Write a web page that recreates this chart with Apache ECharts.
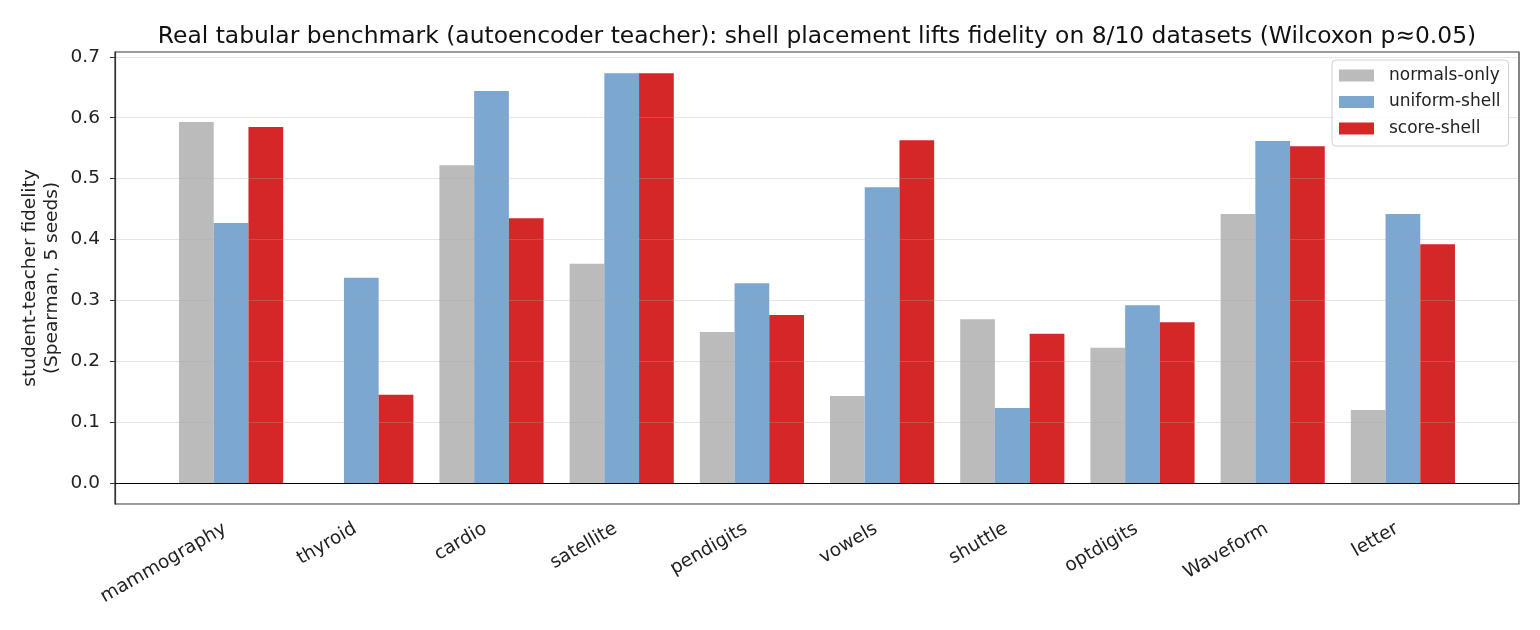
<!DOCTYPE html>
<html>
<head>
<meta charset="utf-8">
<title>Real tabular benchmark</title>
<script src="https://cdn.jsdelivr.net/npm/echarts@6/dist/echarts.min.js"></script>
<style>
  html, body { margin: 0; padding: 0; background: #fff; }
  #chart { width: 1540px; height: 630px; }
</style>
</head>
<body>
<div id="chart"></div>
<script>
// datasets on the x axis
const datasets = ['mammography', 'thyroid', 'cardio', 'satellite', 'pendigits',
  'vowels', 'shuttle', 'optdigits', 'Waveform', 'letter']

// student-teacher fidelity per placement strategy
const normalsOnly  = [0.593, 0.0,   0.522, 0.360, 0.248, 0.143, 0.269, 0.222, 0.442, 0.120]
const uniformShell = [0.427, 0.337, 0.644, 0.673, 0.328, 0.486, 0.123, 0.292, 0.562, 0.442]
const scoreShell   = [0.585, 0.145, 0.435, 0.673, 0.276, 0.563, 0.245, 0.264, 0.553, 0.392]

const seriesNames = ['normals-only', 'uniform-shell', 'score-shell']
const seriesColors = ['#bbbbbb', '#7ba7d1', '#d62728']

// y range as matplotlib autoscaled it
const yMin = -0.0345
const yMax = 0.708

const font = 'DejaVu Sans'
const chart = echarts.init(document.getElementById('chart'), null, { renderer: 'canvas' })

// grid 0 holds the bars (category band = one dataset),
// grid 1 is the full axes frame with the y scale, grid lines and zero line
const option = {
  animation: false,
  backgroundColor: '#fff',
  textStyle: { fontFamily: font },
  title: {
    text: 'Real tabular benchmark (autoencoder teacher): shell placement lifts fidelity on 8/10 datasets (Wilcoxon p≈0.05)',
    left: 812,
    top: 20,
    textAlign: 'center',
    textStyle: { fontFamily: font, fontSize: 23.4, fontWeight: 'normal', color: '#111' }
  },
  legend: {
    data: seriesNames,
    orient: 'vertical',
    left: 1332,
    top: 60,
    padding: [7, 8, 9, 7],
    itemWidth: 35,
    itemHeight: 12,
    itemGap: 9.5,
    icon: 'rect',
    borderColor: '#d0d0d0',
    borderWidth: 1,
    borderRadius: 4,
    backgroundColor: 'rgba(255,255,255,0.85)',
    textStyle: { fontFamily: font, fontSize: 17, color: '#222', padding: [0, 0, 0, 10] }
  },
  grid: [
    { left: 166, width: 1302, top: 52, height: 452 },
    { left: 115, width: 1404, top: 52, height: 452, show: true, borderColor: '#333', borderWidth: 1.2, backgroundColor: 'transparent' }
  ],
  xAxis: [
    {
      type: 'category',
      gridIndex: 0,
      data: datasets,
      axisLine: { show: false },
      axisTick: { alignWithLabel: true, length: 5, lineStyle: { color: '#333' } },
      axisLabel: { interval: 0, rotate: 30, margin: 20, padding: [0, 7, 0, 0], fontSize: 18.5, color: '#222', fontFamily: font }
    },
    {
      type: 'value',
      gridIndex: 1,
      min: 0,
      max: 1,
      show: false
    }
  ],
  yAxis: [
    { type: 'value', gridIndex: 0, min: yMin, max: yMax, show: false },
    {
      type: 'value',
      gridIndex: 1,
      min: yMin,
      max: yMax,
      splitNumber: 7,
      z: 3,
      axisLine: { show: true, lineStyle: { color: '#333', width: 1.2 } },
      axisTick: { show: true, length: 5, lineStyle: { color: '#333' } },
      axisLabel: {
        margin: 15,
        fontSize: 18.5,
        color: '#222',
        fontFamily: font,
        showMinLabel: false,
        showMaxLabel: false,
        formatter: v => v.toFixed(1)
      },
      splitLine: { show: true, lineStyle: { color: 'rgba(170,170,170,0.3)', width: 1.2 } },
      name: 'student-teacher fidelity\n(Spearman, 5 seeds)',
      nameLocation: 'middle',
      nameRotate: 90,
      nameGap: 52,
      nameMoveOverlap: false,
      nameTextStyle: { fontFamily: font, fontSize: 18.5, color: '#222', lineHeight: 22 }
    }
  ],
  series: [
    ...[normalsOnly, uniformShell, scoreShell].map((vals, i) => ({
      name: seriesNames[i],
      type: 'bar',
      xAxisIndex: 0,
      yAxisIndex: 0,
      data: vals,
      barGap: '0%',
      barCategoryGap: '20%',
      itemStyle: { color: seriesColors[i] },
      silent: true
    })),
    {
      // zero reference line across the whole frame
      type: 'line',
      xAxisIndex: 1,
      yAxisIndex: 1,
      data: [],
      z: 4,
      silent: true,
      markLine: {
        symbol: 'none',
        silent: true,
        label: { show: false },
        lineStyle: { color: '#000', type: 'solid', width: 1 },
        data: [{ yAxis: 0 }]
      }
    }
  ]
}

chart.setOption(option)
</script>
</body>
</html>
